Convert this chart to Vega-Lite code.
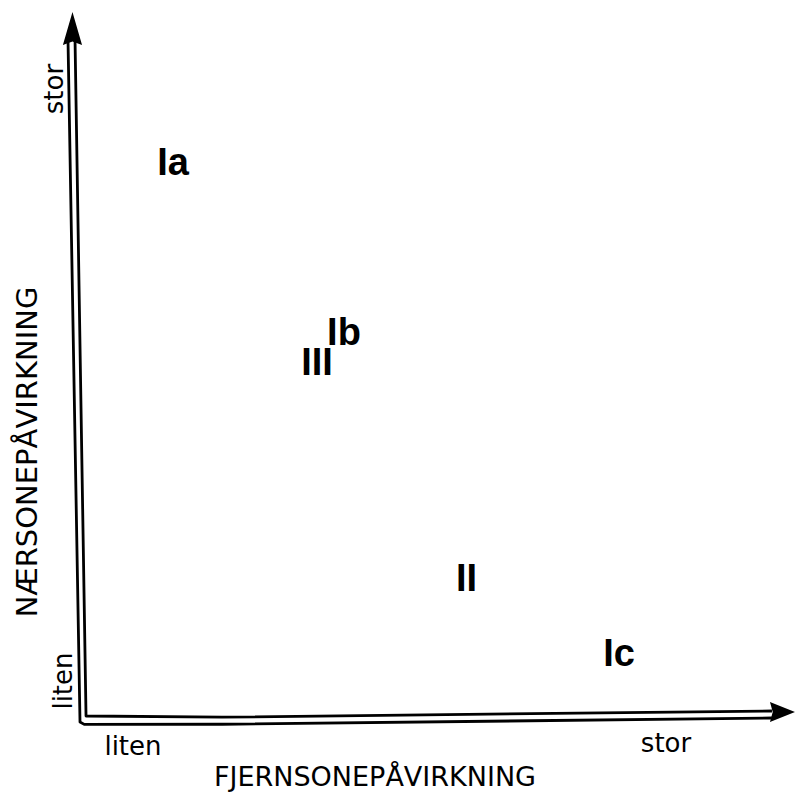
{
  "$schema": "https://vega.github.io/schema/vega-lite/v6.json",
  "width": 710,
  "height": 710,
  "padding": {"left": 80, "right": 5, "top": 10, "bottom": 74},
  "autosize": {"type": "none"},
  "background": "white",
  "config": {"view": {"stroke": null}},
  "datasets": {
    "axes": [
      {"line": "outer", "ord": 1, "u": -1.69, "v": 95.77},
      {"line": "outer", "ord": 2, "u": 0.0, "v": -0.28},
      {"line": "outer", "ord": 3, "u": 0.6, "v": -0.62},
      {"line": "outer", "ord": 4, "u": 20.0, "v": -0.6},
      {"line": "outer", "ord": 5, "u": 97.46, "v": 0.28},
      {"line": "inner", "ord": 1, "u": -0.7, "v": 95.77},
      {"line": "inner", "ord": 2, "u": 0.85, "v": 0.56},
      {"line": "inner", "ord": 3, "u": 20.0, "v": 0.4},
      {"line": "inner", "ord": 4, "u": 97.46, "v": 1.27}
    ],
    "vArrow": [{"u": -1.06, "v": 97.39}],
    "hArrow": [{"u": 98.94, "v": 1.13}],
    "zones": [
      {"label": "Ia", "u": 13.10, "v": 78.31},
      {"label": "Ib", "u": 37.18, "v": 54.37},
      {"label": "III", "u": 33.38, "v": 50.14},
      {"label": "II", "u": 54.44, "v": 19.72},
      {"label": "Ic", "u": 75.92, "v": 9.15}
    ],
    "hLabels": [
      {"label": "liten", "u": 7.46, "v": -4.93},
      {"label": "stor", "u": 82.54, "v": -4.51}
    ],
    "hTitle": [{"label": "FJERNSONEPÅVIRKNING", "u": 41.55, "v": -9.3}],
    "vLabels": [
      {"label": "stor", "u": -2.39, "v": 88.87},
      {"label": "liten", "u": -1.13, "v": 5.49}
    ],
    "vTitle": [{"label": "NÆRSONEPÅVIRKNING", "u": -6.06, "v": 37.75}]
  },
  "layer": [
    {
      "data": {"name": "axes"},
      "mark": {"type": "line", "color": "black", "strokeWidth": 2.8, "strokeJoin": "round"},
      "encoding": {
        "x": {"field": "u", "type": "quantitative", "scale": {"domain": [0, 100], "nice": false, "zero": false}, "axis": null},
        "y": {"field": "v", "type": "quantitative", "scale": {"domain": [0, 100], "nice": false, "zero": false}, "axis": null},
        "detail": {"field": "line"},
        "order": {"field": "ord", "type": "quantitative"}
      }
    },
    {
      "data": {"name": "vArrow"},
      "mark": {"type": "point", "filled": true, "color": "black", "opacity": 1, "shape": "M0,-1L-0.58,1L0,0.78L0.58,1Z", "size": 1089},
      "encoding": {
        "x": {"field": "u", "type": "quantitative", "scale": {"domain": [0, 100], "nice": false, "zero": false}, "axis": null},
        "y": {"field": "v", "type": "quantitative", "scale": {"domain": [0, 100], "nice": false, "zero": false}, "axis": null}
      }
    },
    {
      "data": {"name": "hArrow"},
      "mark": {"type": "point", "filled": true, "color": "black", "opacity": 1, "shape": "M1,0L-1,-0.8L-0.78,0L-1,0.8Z", "size": 625},
      "encoding": {
        "x": {"field": "u", "type": "quantitative", "scale": {"domain": [0, 100], "nice": false, "zero": false}, "axis": null},
        "y": {"field": "v", "type": "quantitative", "scale": {"domain": [0, 100], "nice": false, "zero": false}, "axis": null}
      }
    },
    {
      "data": {"name": "zones"},
      "mark": {"type": "text", "font": "Liberation Sans", "fontWeight": "bold", "fontSize": 38, "align": "center", "baseline": "middle", "color": "black"},
      "encoding": {
        "x": {"field": "u", "type": "quantitative", "scale": {"domain": [0, 100], "nice": false, "zero": false}, "axis": null},
        "y": {"field": "v", "type": "quantitative", "scale": {"domain": [0, 100], "nice": false, "zero": false}, "axis": null},
        "text": {"field": "label"}
      }
    },
    {
      "data": {"name": "hLabels"},
      "mark": {"type": "text", "font": "DejaVu Sans", "fontSize": 26, "align": "center", "baseline": "alphabetic", "color": "black"},
      "encoding": {
        "x": {"field": "u", "type": "quantitative", "scale": {"domain": [0, 100], "nice": false, "zero": false}, "axis": null},
        "y": {"field": "v", "type": "quantitative", "scale": {"domain": [0, 100], "nice": false, "zero": false}, "axis": null},
        "text": {"field": "label"}
      }
    },
    {
      "data": {"name": "hTitle"},
      "mark": {"type": "text", "font": "DejaVu Sans", "fontSize": 27, "align": "center", "baseline": "alphabetic", "color": "black"},
      "encoding": {
        "x": {"field": "u", "type": "quantitative", "scale": {"domain": [0, 100], "nice": false, "zero": false}, "axis": null},
        "y": {"field": "v", "type": "quantitative", "scale": {"domain": [0, 100], "nice": false, "zero": false}, "axis": null},
        "text": {"field": "label"}
      }
    },
    {
      "data": {"name": "vLabels"},
      "mark": {"type": "text", "font": "DejaVu Sans", "fontSize": 26, "align": "center", "baseline": "alphabetic", "angle": 270, "color": "black"},
      "encoding": {
        "x": {"field": "u", "type": "quantitative", "scale": {"domain": [0, 100], "nice": false, "zero": false}, "axis": null},
        "y": {"field": "v", "type": "quantitative", "scale": {"domain": [0, 100], "nice": false, "zero": false}, "axis": null},
        "text": {"field": "label"}
      }
    },
    {
      "data": {"name": "vTitle"},
      "mark": {"type": "text", "font": "DejaVu Sans", "fontSize": 29, "align": "center", "baseline": "alphabetic", "angle": 270, "color": "black"},
      "encoding": {
        "x": {"field": "u", "type": "quantitative", "scale": {"domain": [0, 100], "nice": false, "zero": false}, "axis": null},
        "y": {"field": "v", "type": "quantitative", "scale": {"domain": [0, 100], "nice": false, "zero": false}, "axis": null},
        "text": {"field": "label"}
      }
    }
  ]
}
